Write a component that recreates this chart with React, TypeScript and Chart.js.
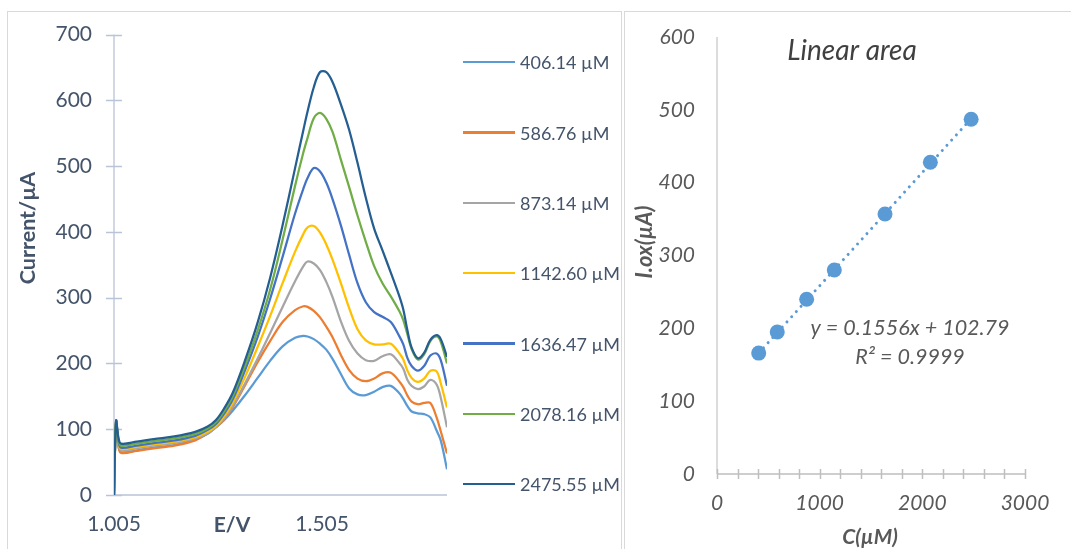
import React, { useEffect, useRef } from 'react';
import { Chart, registerables } from 'chart.js';

Chart.register(...registerables);

const FONT = 'Lato, "Open Sans", sans-serif';

// Differential pulse voltammograms: potential (V) against current (µA)
const POTENTIAL_V = [
  1.005, 1.01, 1.016, 1.022, 1.06, 1.1, 1.15, 1.2, 1.23, 1.25,
  1.27, 1.29, 1.32, 1.35, 1.38, 1.41, 1.44, 1.46, 1.47, 1.485,
  1.5, 1.515, 1.53, 1.55, 1.57, 1.59, 1.61, 1.63, 1.65, 1.67,
  1.69, 1.7, 1.71, 1.72, 1.735, 1.75, 1.765, 1.78, 1.79, 1.805,
];

const CURRENT_406 = [
  0, 110, 74, 65, 68, 72, 76, 84, 93, 103,
  114, 128, 152, 178, 204, 226, 239, 242, 241, 237,
  230, 221, 207, 184, 162, 153, 152, 157, 164, 166,
  155, 146, 135, 127, 124, 123, 118, 98, 83, 39,
];
const CURRENT_587 = [
  0, 110, 73, 64, 67, 71, 75, 83, 94, 103,
  115, 133, 167, 202, 234, 263, 281, 287, 286, 280,
  270, 256, 240, 213, 190, 177, 173, 177, 185, 186,
  173, 164, 151, 142, 138, 140, 140, 118, 97, 63,
];
const CURRENT_873 = [
  0, 111, 76, 68, 71, 75, 79, 86, 94, 103,
  117, 135, 170, 207, 246, 286, 325, 348, 355, 352,
  342, 324, 301, 264, 234, 215, 205, 204, 211, 214,
  201, 192, 175, 166, 161, 165, 175, 168, 148, 103,
];
const CURRENT_1143 = [
  0, 111, 78, 70, 73, 77, 81, 88, 96, 105,
  120, 140, 180, 225, 272, 322, 370, 397, 407, 409,
  399, 381, 358, 322, 284, 252, 235, 229, 229, 230,
  216, 206, 189, 178, 172, 177, 189, 188, 170, 133,
];
const CURRENT_1636 = [
  0, 112, 80, 72, 75, 79, 83, 90, 99, 108,
  124, 145, 190, 240, 298, 362, 428, 466, 482, 497,
  492, 475, 450, 410, 365, 322, 293, 278, 271, 263,
  242, 229, 208, 196, 189, 196, 212, 215, 205, 166,
];
const CURRENT_2078 = [
  0, 112, 83, 75, 78, 82, 86, 93, 101, 111,
  128, 150, 197, 250, 312, 388, 470, 521, 543, 573,
  581, 572, 552, 510, 468, 425, 385, 348, 322, 302,
  280, 266, 244, 222, 206, 214, 234, 241, 233, 200,
];
const CURRENT_2476 = [
  0, 113, 86, 78, 81, 85, 89, 96, 104, 114,
  132, 155, 205, 262, 330, 410, 497, 555, 583, 620,
  643, 643, 628, 594, 555, 505, 452, 405, 372, 338,
  303, 282, 250, 224, 208, 216, 236, 243, 237, 210,
];

const VOLTAMMOGRAMS = [
  CURRENT_406, CURRENT_587, CURRENT_873, CURRENT_1143,
  CURRENT_1636, CURRENT_2078, CURRENT_2476,
];
const CONCENTRATIONS_UM = [406.14, 586.76, 873.14, 1142.6, 1636.47, 2078.16, 2475.55];
const SERIES_COLORS = ['#5B9BD5', '#ED7D31', '#A5A5A5', '#FFC000', '#4472C4', '#70AD47', '#255E91'];
const E_TICKS = [1.005, 1.505];

// Calibration: oxidation peak current against concentration
const OX_CURRENT_UA = [166, 195, 240, 280, 357, 428, 487];
const FIT_SLOPE = 0.1556;
const FIT_INTERCEPT = 102.79;
const FIT_R2 = 0.9999;

const LEGEND_LABELS = CONCENTRATIONS_UM.map((c) => `${c.toFixed(2)} µM`);

const SLATE = '#44546A';
const GREY_TEXT = '#595959';

const voltammogramAxes = {
  id: 'voltammogramAxes',
  beforeDatasetsDraw(chart: any) {
    const { ctx, chartArea: a, scales } = chart;
    const y = scales.y;
    ctx.save();
    ctx.strokeStyle = '#B9C4D6';
    ctx.lineWidth = 1.3;
    ctx.beginPath();
    ctx.moveTo(a.left, a.top);
    ctx.lineTo(a.left, a.bottom);
    for (const t of y.ticks) {
      const py = Math.round(y.getPixelForValue(t.value)) + 0.5;
      ctx.moveTo(a.left - 8, py);
      ctx.lineTo(a.left + 8, py);
    }
    ctx.moveTo(a.left, a.bottom);
    ctx.lineTo(a.right, a.bottom);
    ctx.stroke();
    ctx.restore();
  },
  afterDraw(chart: any) {
    const { ctx } = chart;
    ctx.save();
    ctx.fillStyle = SLATE;
    ctx.font = `bold 21px ${FONT}`;
    ctx.textAlign = 'center';
    ctx.textBaseline = 'middle';
    ctx.fillText('E/V', 232, 525);
    ctx.translate(28, 228);
    ctx.rotate(-Math.PI / 2);
    ctx.font = `bold 21.5px ${FONT}`;
    ctx.fillText('Current/µA', 0, 0);
    ctx.restore();
  },
};

const calibrationAxes = {
  id: 'calibrationAxes',
  beforeDatasetsDraw(chart: any) {
    const { ctx, chartArea: a, scales } = chart;
    const x = scales.x;
    ctx.save();
    ctx.lineWidth = 1.5;
    ctx.strokeStyle = '#D0D0D0';
    ctx.beginPath();
    ctx.moveTo(a.left, a.top);
    ctx.lineTo(a.left, a.bottom);
    ctx.stroke();
    ctx.strokeStyle = '#BFBFBF';
    ctx.beginPath();
    ctx.moveTo(a.left, a.bottom);
    ctx.lineTo(a.right, a.bottom);
    for (const t of x.ticks) {
      const px = Math.round(x.getPixelForValue(t.value)) + 0.5;
      ctx.moveTo(px, a.bottom - 5);
      ctx.lineTo(px, a.bottom + 5);
    }
    ctx.stroke();
    ctx.restore();
  },
  afterDraw(chart: any) {
    const { ctx } = chart;
    ctx.save();
    ctx.textAlign = 'center';
    ctx.textBaseline = 'middle';
    ctx.fillStyle = '#404040';
    ctx.font = `italic 28px ${FONT}`;
    ctx.fillText('Linear area', 228, 51);
    ctx.fillStyle = GREY_TEXT;
    ctx.font = `italic 21.5px ${FONT}`;
    ctx.fillText(`y = ${FIT_SLOPE}x + ${FIT_INTERCEPT}`, 286, 328);
    ctx.fillText(`R² = ${FIT_R2}`, 286, 357);
    ctx.font = `italic bold 21px ${FONT}`;
    ctx.fillText('C(µM)', 246, 537);
    ctx.translate(21, 242);
    ctx.rotate(-Math.PI / 2);
    ctx.font = `italic bold 22px ${FONT}`;
    ctx.fillText('I.ox(µA)', 0, 0);
    ctx.restore();
  },
};

function VoltammogramChart() {
  const ref = useRef<HTMLCanvasElement>(null);
  useEffect(() => {
    const chart = new Chart(ref.current as HTMLCanvasElement, {
      type: 'line',
      data: {
        datasets: VOLTAMMOGRAMS.map((series, i) => ({
          label: LEGEND_LABELS[i],
          data: POTENTIAL_V.map((e, j) => ({ x: e, y: series[j] })),
          borderColor: SERIES_COLORS[i],
          backgroundColor: SERIES_COLORS[i],
          borderWidth: 2.25,
          pointRadius: 0,
          tension: 0.35,
          order: VOLTAMMOGRAMS.length - 1 - i,
        })),
      },
      options: {
        responsive: false,
        animation: false,
        events: [],
        layout: { padding: { top: 31, right: 173, left: 0, bottom: 0 } },
        plugins: { legend: { display: false }, tooltip: { enabled: false } },
        scales: {
          x: {
            type: 'linear',
            min: 1.005,
            max: 1.805,
            grid: { display: false, drawTicks: false, tickLength: 0 },
            border: { display: false },
            afterBuildTicks: (scale: any) => {
              scale.ticks = E_TICKS.map((value) => ({ value }));
            },
            afterFit: (scale: any) => {
              scale.height = 54;
            },
            ticks: {
              padding: 17,
              maxRotation: 0,
              autoSkip: false,
              color: SLATE,
              font: { family: FONT, size: 21 },
              callback: (v: any) => Number(v).toFixed(3),
            },
          },
          y: {
            min: 0,
            max: 700,
            grid: { display: false, drawTicks: false, tickLength: 0 },
            border: { display: false },
            afterFit: (scale: any) => {
              scale.width = 114;
            },
            ticks: {
              stepSize: 100,
              padding: 22,
              color: SLATE,
              font: { family: FONT, size: 21 },
            },
          },
        },
      },
      plugins: [voltammogramAxes],
    });
    return () => chart.destroy();
  }, []);
  return (
    <canvas
      ref={ref}
      width={620}
      height={549}
      style={{ position: 'absolute', left: 0, top: 0 }}
    />
  );
}

function VoltammogramLegend() {
  return (
    <>
      {LEGEND_LABELS.map((label, i) => (
        <div
          key={label}
          style={{
            position: 'absolute',
            left: 463,
            top: 62.3 + i * 70.3 - 12,
            height: 24,
            display: 'flex',
            alignItems: 'center',
            whiteSpace: 'nowrap',
          }}
        >
          <div style={{ width: 52, height: 2.25, background: SERIES_COLORS[i], marginRight: 5 }} />
          <span style={{ fontFamily: FONT, fontSize: 18, color: SLATE, lineHeight: '24px' }}>{label}</span>
        </div>
      ))}
    </>
  );
}

function CalibrationChart() {
  const ref = useRef<HTMLCanvasElement>(null);
  useEffect(() => {
    const fitLine = (c: number) => FIT_SLOPE * c + FIT_INTERCEPT;
    const first = CONCENTRATIONS_UM[0];
    const last = CONCENTRATIONS_UM[CONCENTRATIONS_UM.length - 1];
    const chart = new Chart(ref.current as HTMLCanvasElement, {
      type: 'scatter',
      data: {
        datasets: [
          {
            label: 'I.ox',
            data: CONCENTRATIONS_UM.map((c, i) => ({ x: c, y: OX_CURRENT_UA[i] })),
            pointRadius: 7.5,
            pointBackgroundColor: '#5B9BD5',
            pointBorderWidth: 0,
            order: 0,
          },
          {
            type: 'line',
            label: 'Linear fit',
            data: [
              { x: first, y: fitLine(first) },
              { x: last, y: fitLine(last) },
            ],
            borderColor: '#5B9BD5',
            borderWidth: 3,
            borderDash: [0.01, 7],
            borderCapStyle: 'round',
            pointRadius: 0,
            showLine: true,
            fill: false,
            order: 1,
          } as any,
        ],
      },
      options: {
        responsive: false,
        animation: false,
        events: [],
        layout: { padding: { top: 37, right: 46, left: 0, bottom: 0 } },
        plugins: { legend: { display: false }, tooltip: { enabled: false } },
        scales: {
          x: {
            type: 'linear',
            min: 0,
            max: 3000,
            grid: { display: false, drawTicks: false, tickLength: 0 },
            border: { display: false },
            afterFit: (scale: any) => {
              scale.height = 75;
            },
            ticks: {
              stepSize: 200,
              autoSkip: false,
              maxRotation: 0,
              padding: 17,
              color: GREY_TEXT,
              font: { family: FONT, size: 21, style: 'italic' },
              callback: (v: any) => (Number(v) % 1000 === 0 ? String(v) : ''),
            },
          },
          y: {
            min: 0,
            max: 600,
            grid: { display: false, drawTicks: false, tickLength: 0 },
            border: { display: false },
            afterFit: (scale: any) => {
              scale.width = 93;
            },
            ticks: {
              stepSize: 100,
              padding: 22,
              color: GREY_TEXT,
              font: { family: FONT, size: 21, style: 'italic' },
            },
          },
        },
      },
      plugins: [calibrationAxes],
    });
    return () => chart.destroy();
  }, []);
  return (
    <canvas
      ref={ref}
      width={447}
      height={549}
      style={{ position: 'absolute', left: 624, top: 0 }}
    />
  );
}

export default function App() {
  return (
    <div
      style={{
        position: 'fixed',
        left: 0,
        top: 0,
        width: 1071,
        height: 549,
        background: '#ffffff',
        overflow: 'hidden',
      }}
    >
      <div
        style={{
          position: 'absolute',
          left: 7,
          top: 11,
          width: 615,
          height: 600,
          border: '1px solid #D9D9D9',
          boxSizing: 'border-box',
        }}
      />
      <div
        style={{
          position: 'absolute',
          left: 624,
          top: 11,
          width: 500,
          height: 600,
          border: '1px solid #D9D9D9',
          boxSizing: 'border-box',
        }}
      />
      <VoltammogramChart />
      <VoltammogramLegend />
      <CalibrationChart />
    </div>
  );
}
